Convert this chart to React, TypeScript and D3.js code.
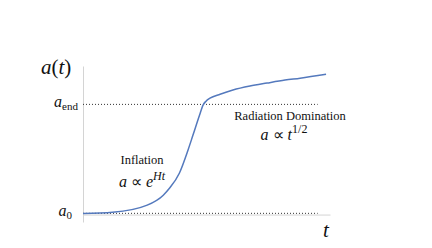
import React, { useRef, useEffect } from 'react';
import * as d3 from 'd3';

interface Point {
  t: number;
  a: number;
}

// scale factor a(t) (t: 0..10, a: 0..6)
const curveT = [0, 1.2, 2.6, 3.25, 3.5, 3.9, 4.25, 4.45, 4.72, 4.86, 4.98, 5.14, 5.55, 6.07, 6.76, 7.45, 8.18, 8.79, 9.84];
const curveA = [0.04, 0.09, 0.38, 0.78, 1.06, 1.67, 2.6, 3.2, 4.02, 4.42, 4.58, 4.7, 4.86, 5.03, 5.19, 5.31, 5.43, 5.51, 5.67];

const A0 = 0.05;
const AEND = 4.45;
const DOTTED_END = 9.5;

const inflationLabel = 'Inflation';
const radiationLabel = 'Radiation Domination';

const App: React.FC = () => {
  const svgRef = useRef<SVGSVGElement | null>(null);
  const width = 432;
  const height = 248;

  useEffect(() => {
    if (!svgRef.current) return;
    const svg = d3.select(svgRef.current);
    svg.selectAll('*').remove();

    const data: Point[] = curveT.map((t, i) => ({ t, a: curveA[i] }));

    const x = d3.scaleLinear().domain([0, 10]).range([83, 330]);
    const y = d3.scaleLinear().domain([-0.3, 6]).range([222, 66]);

    const serif = "'Liberation Serif'";

    // axes (no ticks, just the lines)
    const yAxis = svg.append('g')
      .attr('transform', `translate(${x(0)},0)`)
      .call(d3.axisLeft(y).ticks(0).tickSizeOuter(0));
    const xAxis = svg.append('g')
      .attr('transform', `translate(0,${y(0)})`)
      .call(d3.axisBottom(x).ticks(0).tickSizeOuter(0));
    [yAxis, xAxis].forEach(g => g.select('.domain').attr('stroke', '#d4d4d4').attr('stroke-width', 1));

    // dotted reference levels
    [A0, AEND].forEach(level => {
      svg.append('line')
        .attr('x1', x(0))
        .attr('x2', x(DOTTED_END))
        .attr('y1', y(level))
        .attr('y2', y(level))
        .attr('stroke', '#333')
        .attr('stroke-width', 1)
        .attr('stroke-dasharray', '1,2');
    });

    // curve
    const line = d3.line<Point>()
      .x(d => x(d.t))
      .y(d => y(d.a))
      .curve(d3.curveMonotoneX);

    svg.append('path')
      .datum(data)
      .attr('fill', 'none')
      .attr('stroke', '#5479bd')
      .attr('stroke-width', 1.5)
      .attr('d', line);

    const label = (xp: number, yp: number, size: number, anchor = 'start') =>
      svg.append('text')
        .attr('x', xp)
        .attr('y', yp)
        .attr('text-anchor', anchor)
        .style('font-family', serif)
        .style('font-size', `${size}px`)
        .attr('fill', '#111');

    // axis labels
    const at = label(41, 74, 21);
    at.append('tspan').style('font-style', 'italic').text('a');
    at.append('tspan').text('(');
    at.append('tspan').style('font-style', 'italic').text('t');
    at.append('tspan').text(')');

    label(x(10) - 7, 237, 21).style('font-style', 'italic').text('t');

    // a_end and a_0
    const aend = label(78, y(AEND) + 3, 16, 'end');
    aend.append('tspan').style('font-style', 'italic').text('a');
    aend.append('tspan').style('font-size', '11px').attr('dy', 3).text('end');

    const a0 = label(72, y(A0) + 3, 16, 'end');
    a0.append('tspan').style('font-style', 'italic').text('a');
    a0.append('tspan').style('font-size', '11px').attr('dy', 3).text('0');

    // inflation annotation
    label(142, 164, 12.5, 'middle').text(inflationLabel);

    const infl = label(142, 187, 16, 'middle');
    infl.append('tspan').style('font-style', 'italic').text('a');
    infl.append('tspan').text(' \u221D ');
    infl.append('tspan').style('font-style', 'italic').text('e');
    infl.append('tspan').style('font-style', 'italic').style('font-size', '12px').attr('dy', -7).text('Ht');

    // radiation annotation
    label(290, 120, 12.5, 'middle').text(radiationLabel);

    const rad = label(284, 140, 16, 'middle');
    rad.append('tspan').style('font-style', 'italic').text('a');
    rad.append('tspan').text(' \u221D ');
    rad.append('tspan').style('font-style', 'italic').text('t');
    rad.append('tspan').style('font-size', '12px').attr('dy', -7).text('1/2');
  }, []);

  return (
    <svg
      ref={svgRef}
      width={width}
      height={height}
      style={{ position: 'absolute', left: 0, top: 0, background: '#fff' }}
    />
  );
};

export default App;
